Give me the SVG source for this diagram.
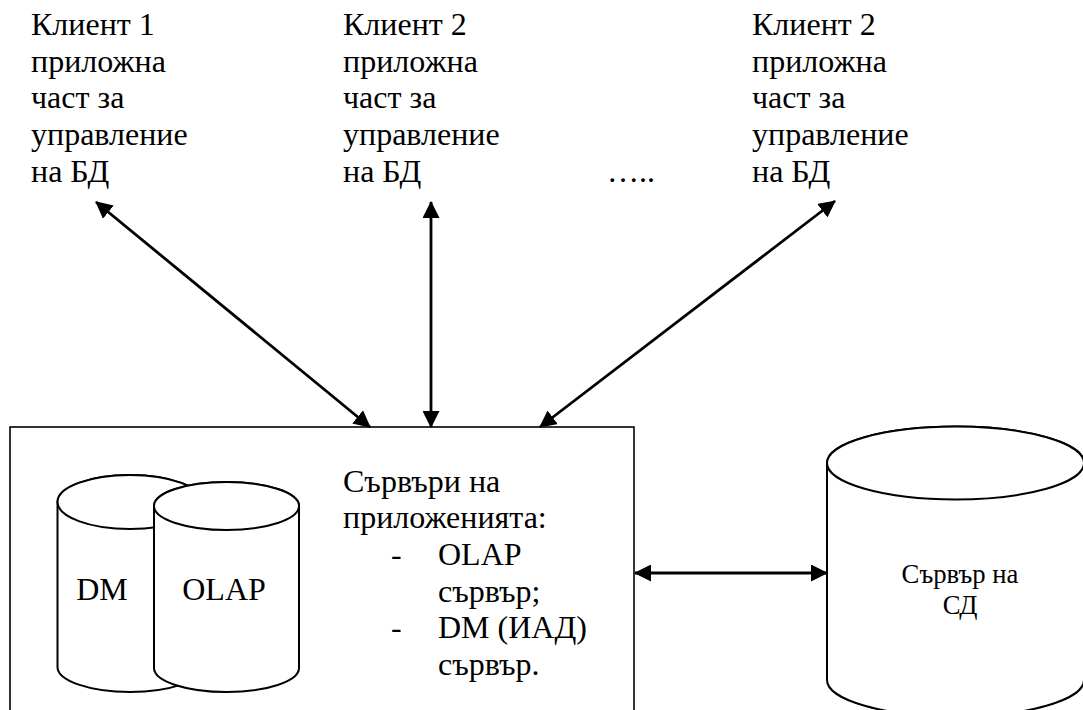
<svg xmlns="http://www.w3.org/2000/svg" width="1083" height="710" viewBox="0 0 1083 710" font-family="'Liberation Serif', 'DejaVu Serif', serif">
<style>
  text { font-family: 'Liberation Serif', 'DejaVu Serif', serif; fill: #000; }
  .t { font-size: 32px; }
  .s { font-size: 26.7px; }
  .shape { fill: #fff; stroke: #000; stroke-width: 2; }
  .box { fill: #fff; stroke: #000; stroke-width: 1.6; }
  .conn { stroke: #000; stroke-width: 2.8; fill: none; marker-start: url(#ah); marker-end: url(#ah); }
</style>
<defs>
  <marker id="ah" markerUnits="userSpaceOnUse" viewBox="0 0 17 17" markerWidth="17" markerHeight="17" refX="16" refY="8.5" orient="auto-start-reverse">
    <path d="M0,0 L17,8.5 L0,17 Z" fill="#000"/>
  </marker>
</defs>
<rect width="1083" height="710" fill="#fff"/>

<g id="client1">
  <text class="t" x="31" y="35">Клиент 1</text>
  <text class="t" x="31" y="71.7">приложна</text>
  <text class="t" x="31" y="108.3">част за</text>
  <text class="t" x="31" y="145">управление</text>
  <text class="t" x="31" y="181.7">на БД</text>
</g>
<g id="client2">
  <text class="t" x="343" y="35">Клиент 2</text>
  <text class="t" x="343" y="71.7">приложна</text>
  <text class="t" x="343" y="108.3">част за</text>
  <text class="t" x="343" y="145">управление</text>
  <text class="t" x="343" y="181.7">на БД</text>
</g>
<g id="ellipsis">
  <text class="t" x="607" y="181.7">…..</text>
</g>
<g id="client3">
  <text class="t" x="752" y="35">Клиент 2</text>
  <text class="t" x="752" y="71.7">приложна</text>
  <text class="t" x="752" y="108.3">част за</text>
  <text class="t" x="752" y="145">управление</text>
  <text class="t" x="752" y="181.7">на БД</text>
</g>

<g id="appservers">
  <rect class="box" x="10" y="427" width="624" height="300"/>
  <g id="dm-db">
    <path class="shape" d="M57.5,502 V667 A72.5,25 0 0 0 202.5,667 V502 A72.5,27 0 0 0 57.5,502 Z"/>
    <ellipse class="shape" cx="130" cy="502" rx="72.5" ry="27"/>
    <text class="t" x="102" y="600" text-anchor="middle">DM</text>
  </g>
  <g id="olap-db">
    <path class="shape" d="M154,506 V668 A72.5,24 0 0 0 299,668 V506 A72.5,24 0 0 0 154,506 Z"/>
    <ellipse class="shape" cx="226.5" cy="506" rx="72.5" ry="24"/>
    <text class="t" x="224" y="600" text-anchor="middle">OLAP</text>
  </g>
  <text class="t" x="343" y="491.7">Сървъри на</text>
  <text class="t" x="343" y="528.3">приложенията:</text>
  <text class="t" x="391" y="565">-</text>
  <text class="t" x="438" y="565">OLAP</text>
  <text class="t" x="438" y="601.7">сървър;</text>
  <text class="t" x="391" y="638.3">-</text>
  <text class="t" x="438" y="638.3">DM (ИАД)</text>
  <text class="t" x="438" y="675">сървър.</text>
</g>

<g id="dw-server">
  <path class="shape" d="M827,463 V680 A128.5,36.5 0 0 0 1084,680 V463 A128.5,36.5 0 0 0 827,463 Z"/>
  <ellipse class="shape" cx="955.5" cy="463" rx="128.5" ry="36.5"/>
  <text class="s" x="960" y="583.3" text-anchor="middle">Сървър на</text>
  <text class="s" x="960" y="613.5" text-anchor="middle">СД</text>
</g>

<g id="connectors">
  <line class="conn" x1="96" y1="202" x2="370" y2="427"/>
  <line class="conn" x1="431" y1="202" x2="431" y2="427"/>
  <line class="conn" x1="835" y1="201" x2="540" y2="427"/>
  <line class="conn" x1="635" y1="573" x2="827" y2="573"/>
</g>
</svg>
